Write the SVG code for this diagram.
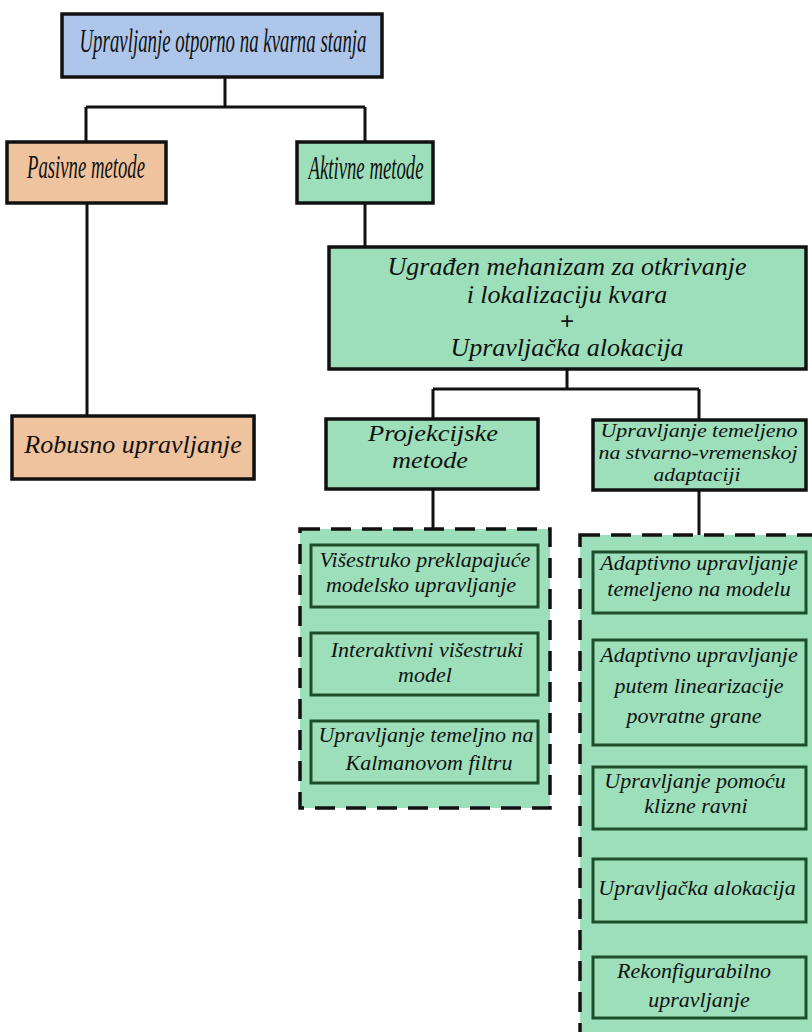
<svg xmlns="http://www.w3.org/2000/svg" width="812" height="1032" viewBox="0 0 812 1032">
<style>
text{font-family:'Liberation Serif','DejaVu Serif',serif;font-style:italic;fill:#111;text-anchor:middle}
.box{stroke:#111;stroke-width:3.5}
.blue{fill:#adc6ea}
.orange{fill:#efc39d}
.green{fill:#9ddfbb}
.inner{fill:#9ddfbb;stroke:#1d4e2c;stroke-width:3}
.dash{fill:#9ddfbb;stroke:#111;stroke-width:3.5;stroke-dasharray:20 11}
.conn{fill:none;stroke:#111;stroke-width:3}
.t33{font-size:33px}
.t26{font-size:26px}
.t24{font-size:24px}
.t22{font-size:22px}
.t19{font-size:19px}
</style>
<rect width="812" height="1032" fill="#fff"/>
<g id="connectors">
<path class="conn" d="M225 77V107M86 107H365M86 107V142M365 107V142"/>
<path class="conn" d="M87 203V416"/>
<path class="conn" d="M365 203V247"/>
<path class="conn" d="M567 369V389M433 389H699M433 389V419M699 389V420"/>
<path class="conn" d="M433 489V529"/>
<path class="conn" d="M699 490V535"/>
</g>
<g font-family="Liberation Serif, DejaVu Serif, serif" font-style="italic">
<g id="root">
<rect class="box blue" x="62" y="14" width="320" height="63"/>
<text class="t33" x="223" y="52" textLength="287" lengthAdjust="spacingAndGlyphs">Upravljanje otporno na kvarna stanja</text>
</g>
<g id="pasivne">
<rect class="box orange" x="7" y="142" width="159" height="61"/>
<text class="t33" x="86" y="178" textLength="118" lengthAdjust="spacingAndGlyphs">Pasivne metode</text>
</g>
<g id="aktivne">
<rect class="box green" x="297" y="142" width="136" height="61"/>
<text class="t33" x="366" y="179" textLength="115" lengthAdjust="spacingAndGlyphs">Aktivne metode</text>
</g>
<g id="robusno">
<rect class="orange" x="12" y="416" width="244" height="63"/>
<rect class="box orange" x="12" y="416" width="242" height="63"/>
<text class="t26" x="133" y="453">Robusno upravljanje</text>
</g>
<g id="ugradjen">
<rect class="box green" x="329" y="247" width="477" height="122"/>
<text class="t26" x="567" y="275">Ugrađen mehanizam za otkrivanje</text>
<text class="t26" x="567" y="303">i lokalizaciju kvara</text>
<text x="567" y="330" style="font-size:25px;font-style:normal;font-weight:bold">+</text>
<text class="t26" x="567" y="356">Upravljačka alokacija</text>
</g>
<g id="projekcijske">
<rect class="box green" x="326" y="419" width="212" height="70"/>
<text class="t24" x="433" y="441" textLength="130" lengthAdjust="spacingAndGlyphs">Projekcijske</text>
<text class="t24" x="430" y="468" textLength="76" lengthAdjust="spacingAndGlyphs">metode</text>
</g>
<g id="adaptacija">
<rect class="box green" x="593" y="420" width="213" height="70"/>
<text class="t19" x="699" y="437" textLength="197" lengthAdjust="spacingAndGlyphs">Upravljanje temeljeno</text>
<text class="t19" x="698" y="459" textLength="199" lengthAdjust="spacingAndGlyphs">na stvarno-vremenskoj</text>
<text class="t19" x="697" y="481" textLength="87" lengthAdjust="spacingAndGlyphs">adaptaciji</text>
</g>
<g id="group-left">
<rect class="dash" x="300" y="529" width="250" height="279"/>
</g>
<g id="group-right">
<rect class="dash" x="580" y="535" width="240" height="510"/>
</g>
<g id="visestruko">
<rect class="inner" x="311" y="545" width="227" height="62"/>
<text class="t22" x="425" y="567">Višestruko preklapajuće</text>
<text class="t22" x="421" y="592">modelsko upravljanje</text>
</g>
<g id="interaktivni">
<rect class="inner" x="311" y="633" width="227" height="62"/>
<text class="t22" x="427" y="657">Interaktivni višestruki</text>
<text class="t22" x="425" y="682">model</text>
</g>
<g id="kalman">
<rect class="inner" x="311" y="721" width="227" height="62"/>
<text class="t22" x="426" y="742">Upravljanje temeljno na</text>
<text class="t22" x="429" y="770">Kalmanovom filtru</text>
</g>
<g id="adaptivno-model">
<rect class="inner" x="593" y="552" width="213" height="61"/>
<text class="t22" x="699" y="570">Adaptivno upravljanje</text>
<text class="t22" x="699" y="596">temeljeno na modelu</text>
</g>
<g id="adaptivno-lin">
<rect class="inner" x="593" y="640" width="213" height="105"/>
<text class="t22" x="699" y="662">Adaptivno upravljanje</text>
<text class="t22" x="699" y="693">putem linearizacije</text>
<text class="t22" x="694" y="723">povratne grane</text>
</g>
<g id="klizne">
<rect class="inner" x="593" y="767" width="213" height="62"/>
<text class="t22" x="695" y="788">Upravljanje pomoću</text>
<text class="t22" x="696" y="813">klizne ravni</text>
</g>
<g id="alokacija">
<rect class="inner" x="593" y="859" width="213" height="63"/>
<text class="t22" x="697" y="895">Upravljačka alokacija</text>
</g>
<g id="rekonfig">
<rect class="inner" x="593" y="957" width="213" height="61"/>
<text class="t22" x="694" y="978">Rekonfigurabilno</text>
<text class="t22" x="699" y="1007">upravljanje</text>
</g>
</g>
</svg>
